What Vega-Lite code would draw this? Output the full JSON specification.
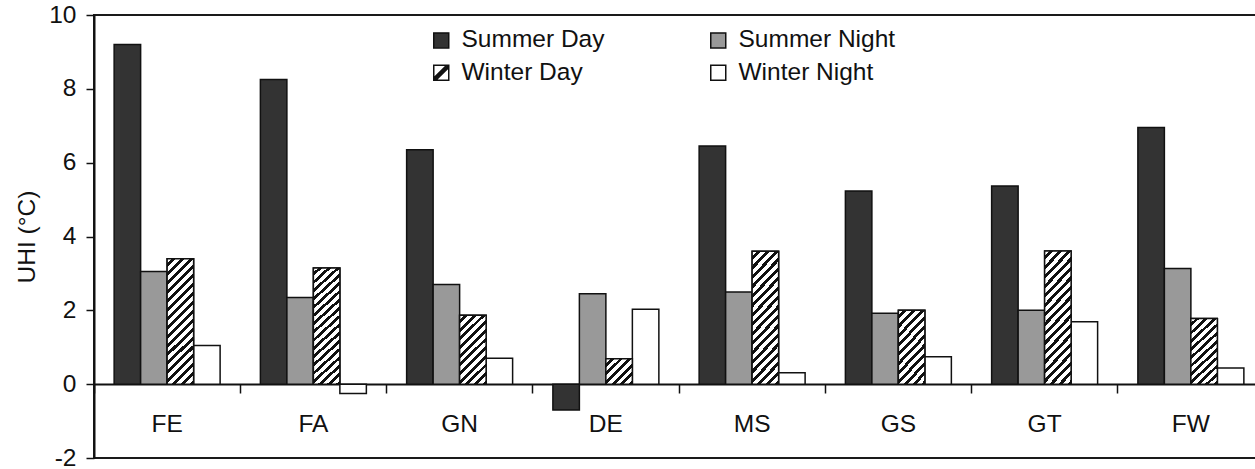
{
  "$schema": "https://vega.github.io/schema/vega-lite/v6.json",
  "width": 1162,
  "height": 443,
  "autosize": "none",
  "padding": {"left": 94, "top": 15, "right": 0, "bottom": 11},
  "background": "white",
  "config": {
    "font": "Liberation Sans",
    "view": {"stroke": "#1a1a1a", "strokeWidth": 2}
  },
  "data": {
    "values": [
      {"site": "FE", "season": "Summer Day", "value": 9.2},
      {"site": "FE", "season": "Summer Night", "value": 3.05},
      {"site": "FE", "season": "Winter Day", "value": 3.4},
      {"site": "FE", "season": "Winter Night", "value": 1.05},
      {"site": "FA", "season": "Summer Day", "value": 8.25},
      {"site": "FA", "season": "Summer Night", "value": 2.35},
      {"site": "FA", "season": "Winter Day", "value": 3.15},
      {"site": "FA", "season": "Winter Night", "value": -0.25},
      {"site": "GN", "season": "Summer Day", "value": 6.35},
      {"site": "GN", "season": "Summer Night", "value": 2.7},
      {"site": "GN", "season": "Winter Day", "value": 1.87},
      {"site": "GN", "season": "Winter Night", "value": 0.7},
      {"site": "DE", "season": "Summer Day", "value": -0.7},
      {"site": "DE", "season": "Summer Night", "value": 2.45},
      {"site": "DE", "season": "Winter Day", "value": 0.69},
      {"site": "DE", "season": "Winter Night", "value": 2.03},
      {"site": "MS", "season": "Summer Day", "value": 6.45},
      {"site": "MS", "season": "Summer Night", "value": 2.5},
      {"site": "MS", "season": "Winter Day", "value": 3.6},
      {"site": "MS", "season": "Winter Night", "value": 0.31},
      {"site": "GS", "season": "Summer Day", "value": 5.23},
      {"site": "GS", "season": "Summer Night", "value": 1.92},
      {"site": "GS", "season": "Winter Day", "value": 2.0},
      {"site": "GS", "season": "Winter Night", "value": 0.74},
      {"site": "GT", "season": "Summer Day", "value": 5.37},
      {"site": "GT", "season": "Summer Night", "value": 2.0},
      {"site": "GT", "season": "Winter Day", "value": 3.61},
      {"site": "GT", "season": "Winter Night", "value": 1.69},
      {"site": "FW", "season": "Summer Day", "value": 6.95},
      {"site": "FW", "season": "Summer Night", "value": 3.13},
      {"site": "FW", "season": "Winter Day", "value": 1.78},
      {"site": "FW", "season": "Winter Night", "value": 0.44}
    ]
  },
  "encoding": {
    "x": {
      "field": "site",
      "type": "nominal",
      "sort": ["FE", "FA", "GN", "DE", "MS", "GS", "GT", "FW"],
      "scale": {"range": [0, 1170], "paddingInner": 0, "paddingOuter": 0},
      "axis": {
        "title": null,
        "orient": "bottom",
        "offset": -74,
        "bandPosition": 0,
        "ticks": true,
        "labelAngle": 0,
        "tickSize": 9,
        "tickWidth": 1.5,
        "tickColor": "#111",
        "domainColor": "#111",
        "domainWidth": 2,
        "labelFontSize": 24.5,
        "labelColor": "#111",
        "labelPadding": 19
      }
    },
    "xOffset": {
      "field": "season",
      "type": "nominal",
      "scale": {"domain": ["Summer Day", "Summer Night", "Winter Day", "Winter Night"], "paddingInner": 0, "paddingOuter": 0.76}
    },
    "y": {
      "field": "value",
      "type": "quantitative",
      "scale": {"domain": [-2, 10], "nice": false},
      "axis": {
        "title": "UHI (°C)",
        "values": [-2, 0, 2, 4, 6, 8, 10],
        "labelExpr": "'' + datum.value",
        "grid": false,
        "tickSize": 8,
        "tickWidth": 1.5,
        "tickColor": "#111",
        "domainColor": "#111",
        "domainWidth": 2,
        "labelFontSize": 24.5,
        "labelColor": "#111",
        "labelPadding": 10,
        "titleFontSize": 24.5,
        "titleFontWeight": "normal",
        "titleColor": "#111",
        "titlePadding": 9
      }
    }
  },
  "layer": [
    {
      "mark": {"type": "bar", "stroke": "#111", "strokeWidth": 1.5},
      "encoding": {
        "fill": {
          "field": "season",
          "type": "nominal",
          "scale": {
            "domain": ["Summer Day", "Summer Night", "Winter Day", "Winter Night"],
            "range": ["#333333", "#999999", "#ffffff", "#ffffff"]
          },
          "legend": {
            "title": null,
            "orient": "none",
            "direction": "horizontal",
            "legendX": 335,
            "legendY": 13,
            "columns": 2,
            "padding": 0,
            "symbolType": "square",
            "symbolSize": 225,
            "symbolStrokeColor": "#111",
            "symbolStrokeWidth": 1.5,
            "labelFontSize": 24.5,
            "labelColor": "#111",
            "labelOffset": 8,
            "labelLimit": 400,
            "rowPadding": 7.5,
            "columnPadding": 101,
            "encode": {
              "symbols": {
                "update": {
                  "stroke": {"value": "#111111"},
                  "strokeWidth": {"value": 1.5},
                  "opacity": {"value": 1},
                  "shape": {"signal": "datum.value === 'Winter Day' ? 'M-1,-1H1V1H-1ZM-1,1L1,-1M-1,0.72L0.72,-1M-0.72,1L1,-0.72' : 'square'"},
                  "fill": {"signal": "datum.value === 'Summer Day' ? '#333333' : datum.value === 'Summer Night' ? '#999999' : '#ffffff'"}
                }
              }
            }
          }
        }
      }
    },
    {
      "transform": [{"filter": "datum.season === 'Winter Day'"}],
      "mark": {"type": "bar", "stroke": "#111", "strokeWidth": 1.5},
      "encoding": {
        "fill": {
          "condition": [
            {"test": "datum.value > 2.5", "value": {"gradient": "linear", "x1": 0, "y1": 0, "x2": 0.242, "y2": 1.158, "stops": [
              {"offset": 0, "color": "#ffffff"}, {"offset": 0.0324, "color": "#ffffff"}, {"offset": 0.0324, "color": "#111111"}, {"offset": 0.0588, "color": "#111111"},
              {"offset": 0.0588, "color": "#ffffff"}, {"offset": 0.0912, "color": "#ffffff"}, {"offset": 0.0912, "color": "#111111"}, {"offset": 0.1176, "color": "#111111"},
              {"offset": 0.1176, "color": "#ffffff"}, {"offset": 0.15, "color": "#ffffff"}, {"offset": 0.15, "color": "#111111"}, {"offset": 0.1765, "color": "#111111"},
              {"offset": 0.1765, "color": "#ffffff"}, {"offset": 0.2088, "color": "#ffffff"}, {"offset": 0.2088, "color": "#111111"}, {"offset": 0.2353, "color": "#111111"},
              {"offset": 0.2353, "color": "#ffffff"}, {"offset": 0.2676, "color": "#ffffff"}, {"offset": 0.2676, "color": "#111111"}, {"offset": 0.2941, "color": "#111111"},
              {"offset": 0.2941, "color": "#ffffff"}, {"offset": 0.3265, "color": "#ffffff"}, {"offset": 0.3265, "color": "#111111"}, {"offset": 0.3529, "color": "#111111"},
              {"offset": 0.3529, "color": "#ffffff"}, {"offset": 0.3853, "color": "#ffffff"}, {"offset": 0.3853, "color": "#111111"}, {"offset": 0.4118, "color": "#111111"},
              {"offset": 0.4118, "color": "#ffffff"}, {"offset": 0.4441, "color": "#ffffff"}, {"offset": 0.4441, "color": "#111111"}, {"offset": 0.4706, "color": "#111111"},
              {"offset": 0.4706, "color": "#ffffff"}, {"offset": 0.5029, "color": "#ffffff"}, {"offset": 0.5029, "color": "#111111"}, {"offset": 0.5294, "color": "#111111"},
              {"offset": 0.5294, "color": "#ffffff"}, {"offset": 0.5618, "color": "#ffffff"}, {"offset": 0.5618, "color": "#111111"}, {"offset": 0.5882, "color": "#111111"},
              {"offset": 0.5882, "color": "#ffffff"}, {"offset": 0.6206, "color": "#ffffff"}, {"offset": 0.6206, "color": "#111111"}, {"offset": 0.6471, "color": "#111111"},
              {"offset": 0.6471, "color": "#ffffff"}, {"offset": 0.6794, "color": "#ffffff"}, {"offset": 0.6794, "color": "#111111"}, {"offset": 0.7059, "color": "#111111"},
              {"offset": 0.7059, "color": "#ffffff"}, {"offset": 0.7382, "color": "#ffffff"}, {"offset": 0.7382, "color": "#111111"}, {"offset": 0.7647, "color": "#111111"},
              {"offset": 0.7647, "color": "#ffffff"}, {"offset": 0.7971, "color": "#ffffff"}, {"offset": 0.7971, "color": "#111111"}, {"offset": 0.8235, "color": "#111111"},
              {"offset": 0.8235, "color": "#ffffff"}, {"offset": 0.8559, "color": "#ffffff"}, {"offset": 0.8559, "color": "#111111"}, {"offset": 0.8824, "color": "#111111"},
              {"offset": 0.8824, "color": "#ffffff"}, {"offset": 0.9147, "color": "#ffffff"}, {"offset": 0.9147, "color": "#111111"}, {"offset": 0.9412, "color": "#111111"},
              {"offset": 0.9412, "color": "#ffffff"}, {"offset": 0.9735, "color": "#ffffff"}, {"offset": 0.9735, "color": "#111111"}, {"offset": 1, "color": "#111111"}
            ]}},
            {"test": "datum.value > 1.2", "value": {"gradient": "linear", "x1": 0, "y1": 0, "x2": 0.457, "y2": 1.206, "stops": [
              {"offset": 0, "color": "#ffffff"}, {"offset": 0.05, "color": "#ffffff"}, {"offset": 0.05, "color": "#111111"}, {"offset": 0.0909, "color": "#111111"},
              {"offset": 0.0909, "color": "#ffffff"}, {"offset": 0.1409, "color": "#ffffff"}, {"offset": 0.1409, "color": "#111111"}, {"offset": 0.1818, "color": "#111111"},
              {"offset": 0.1818, "color": "#ffffff"}, {"offset": 0.2318, "color": "#ffffff"}, {"offset": 0.2318, "color": "#111111"}, {"offset": 0.2727, "color": "#111111"},
              {"offset": 0.2727, "color": "#ffffff"}, {"offset": 0.3227, "color": "#ffffff"}, {"offset": 0.3227, "color": "#111111"}, {"offset": 0.3636, "color": "#111111"},
              {"offset": 0.3636, "color": "#ffffff"}, {"offset": 0.4136, "color": "#ffffff"}, {"offset": 0.4136, "color": "#111111"}, {"offset": 0.4545, "color": "#111111"},
              {"offset": 0.4545, "color": "#ffffff"}, {"offset": 0.5045, "color": "#ffffff"}, {"offset": 0.5045, "color": "#111111"}, {"offset": 0.5455, "color": "#111111"},
              {"offset": 0.5455, "color": "#ffffff"}, {"offset": 0.5955, "color": "#ffffff"}, {"offset": 0.5955, "color": "#111111"}, {"offset": 0.6364, "color": "#111111"},
              {"offset": 0.6364, "color": "#ffffff"}, {"offset": 0.6864, "color": "#ffffff"}, {"offset": 0.6864, "color": "#111111"}, {"offset": 0.7273, "color": "#111111"},
              {"offset": 0.7273, "color": "#ffffff"}, {"offset": 0.7773, "color": "#ffffff"}, {"offset": 0.7773, "color": "#111111"}, {"offset": 0.8182, "color": "#111111"},
              {"offset": 0.8182, "color": "#ffffff"}, {"offset": 0.8682, "color": "#ffffff"}, {"offset": 0.8682, "color": "#111111"}, {"offset": 0.9091, "color": "#111111"},
              {"offset": 0.9091, "color": "#ffffff"}, {"offset": 0.9591, "color": "#ffffff"}, {"offset": 0.9591, "color": "#111111"}, {"offset": 1, "color": "#111111"}
            ]}}
          ],
          "value": {"gradient": "linear", "x1": 0, "y1": 0, "x2": 1.019, "y2": 0.981, "stops": [
            {"offset": 0, "color": "#ffffff"}, {"offset": 0.0917, "color": "#ffffff"}, {"offset": 0.0917, "color": "#111111"}, {"offset": 0.1667, "color": "#111111"},
            {"offset": 0.1667, "color": "#ffffff"}, {"offset": 0.2583, "color": "#ffffff"}, {"offset": 0.2583, "color": "#111111"}, {"offset": 0.3333, "color": "#111111"},
            {"offset": 0.3333, "color": "#ffffff"}, {"offset": 0.425, "color": "#ffffff"}, {"offset": 0.425, "color": "#111111"}, {"offset": 0.5, "color": "#111111"},
            {"offset": 0.5, "color": "#ffffff"}, {"offset": 0.5917, "color": "#ffffff"}, {"offset": 0.5917, "color": "#111111"}, {"offset": 0.6667, "color": "#111111"},
            {"offset": 0.6667, "color": "#ffffff"}, {"offset": 0.7583, "color": "#ffffff"}, {"offset": 0.7583, "color": "#111111"}, {"offset": 0.8333, "color": "#111111"},
            {"offset": 0.8333, "color": "#ffffff"}, {"offset": 0.925, "color": "#ffffff"}, {"offset": 0.925, "color": "#111111"}, {"offset": 1, "color": "#111111"}
          ]}
        }
      }
    }
  ]
}
